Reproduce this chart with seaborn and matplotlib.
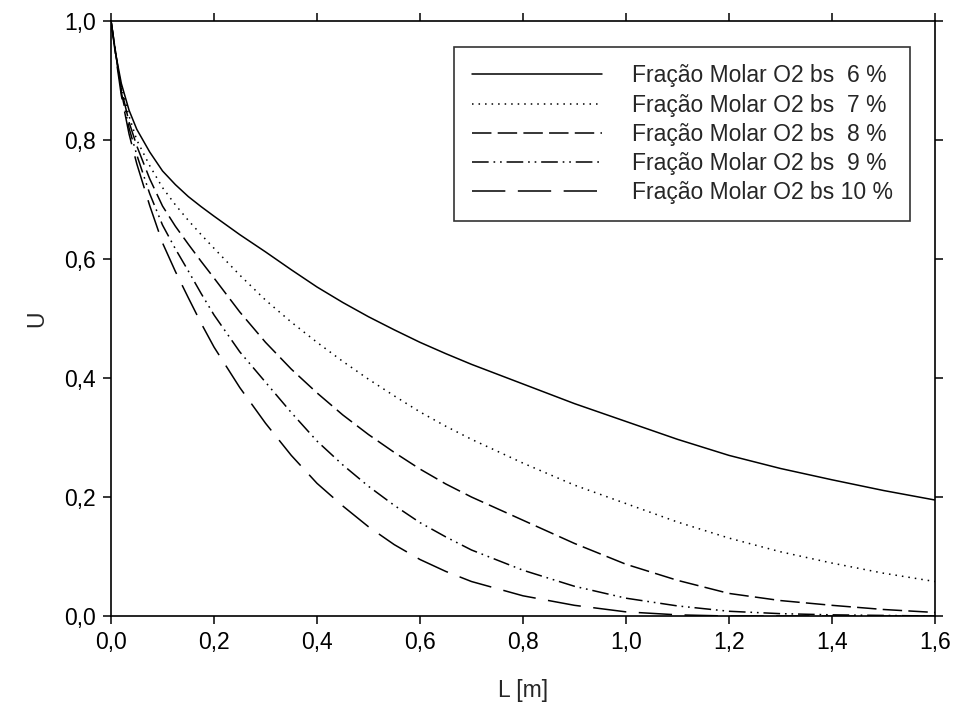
import numpy as np
import pandas as pd
import matplotlib
matplotlib.use("Agg")
import matplotlib.pyplot as plt
import seaborn as sns
from matplotlib.ticker import FuncFormatter

# ---- data ----
L = [0.0, 0.01, 0.02, 0.035, 0.05, 0.075, 0.1, 0.125, 0.15, 0.175, 0.2, 0.25,
     0.3, 0.35, 0.4, 0.45, 0.5, 0.55, 0.6, 0.65, 0.7, 0.8, 0.9, 1.0, 1.1, 1.2,
     1.3, 1.4, 1.5, 1.6]
u_6 = [1.0, 0.94, 0.895, 0.85, 0.818, 0.78, 0.748, 0.725, 0.705, 0.688, 0.672, 0.641,
       0.612, 0.582, 0.553, 0.527, 0.503, 0.481, 0.46, 0.441, 0.423, 0.39, 0.357,
       0.327, 0.297, 0.270, 0.248, 0.229, 0.211, 0.195]
u_7 = [1.0, 0.94, 0.89, 0.84, 0.80, 0.757, 0.72, 0.691, 0.665, 0.641, 0.618, 0.573,
       0.531, 0.494, 0.46, 0.428, 0.398, 0.37, 0.343, 0.319, 0.297, 0.257, 0.22,
       0.189, 0.158, 0.131, 0.108, 0.089, 0.072, 0.058]
u_8 = [1.0, 0.94, 0.885, 0.83, 0.79, 0.735, 0.689, 0.655, 0.625, 0.596, 0.568, 0.511,
       0.46, 0.415, 0.375, 0.338, 0.305, 0.275, 0.247, 0.222, 0.200, 0.161, 0.122,
       0.087, 0.06, 0.038, 0.026, 0.018, 0.011, 0.006]
u_9 = [1.0, 0.94, 0.88, 0.82, 0.775, 0.71, 0.657, 0.617, 0.58, 0.542, 0.506, 0.444,
       0.393, 0.342, 0.294, 0.254, 0.218, 0.186, 0.157, 0.133, 0.111, 0.077, 0.05,
       0.03, 0.017, 0.008, 0.004, 0.002, 0.001, 0.0]
u_10 = [1.0, 0.935, 0.875, 0.81, 0.76, 0.69, 0.627, 0.579, 0.535, 0.492, 0.452, 0.384,
        0.324, 0.27, 0.223, 0.185, 0.150, 0.120, 0.095, 0.075, 0.058, 0.034, 0.018,
        0.007, 0.002, 0.0, 0.0, 0.0, 0.0, 0.0]
labels = ["Fração Molar O2 bs  6 %", "Fração Molar O2 bs  7 %",
          "Fração Molar O2 bs  8 %", "Fração Molar O2 bs  9 %",
          "Fração Molar O2 bs 10 %"]
series = [u_6, u_7, u_8, u_9, u_10]
x_ticks = [0.0, 0.2, 0.4, 0.6, 0.8, 1.0, 1.2, 1.4, 1.6]
y_ticks = [0.0, 0.2, 0.4, 0.6, 0.8, 1.0]

# ---- styles ----
dash_patterns = [None, (1.1, 3.6), (14, 4.5), (12, 3.5, 1.2, 3.5, 1.2, 3.5), (24, 9)]

sns.set_style("ticks")
plt.rcParams['font.family'] = ['Liberation Sans', 'DejaVu Sans']
plt.rcParams['lines.scale_dashes'] = False

fig = plt.figure(figsize=(9.54, 7.13), dpi=100)
ax = fig.add_axes([0.1164, 0.136, 0.8636, 0.8345])

for vals, lab, dp in zip(series, labels, dash_patterns):
    df = pd.DataFrame({"L": L, "U": vals})
    sns.lineplot(data=df, x="L", y="U", ax=ax, color="black", linewidth=1.1,
                 label=lab, sort=False)
    line = ax.lines[-1]
    if dp is not None:
        line.set_dashes(dp)

ax.set_xlim(0, 1.6)
ax.set_ylim(0, 1.0)
ax.set_xticks(x_ticks)
ax.set_yticks(y_ticks)
fmt = FuncFormatter(lambda v, p: f"{v:.1f}".replace(".", ","))
ax.xaxis.set_major_formatter(fmt)
ax.yaxis.set_major_formatter(fmt)
ax.tick_params(axis='both', which='major', direction='out', length=6, width=1.1,
               labelsize=16.5, colors='black', pad=5,
               top=True, right=True, labeltop=False, labelright=False)
for sp in ax.spines.values():
    sp.set_visible(True)
    sp.set_linewidth(1.2)
    sp.set_color('black')

ax.set_xlabel("L [m]", fontsize=16.5, labelpad=18)
ax.set_ylabel("U", fontsize=16.5, labelpad=11)

handles, labs = ax.get_legend_handles_labels()
leg = ax.legend(handles, labs, loc='upper right', bbox_to_anchor=(0.970, 0.956),
                borderaxespad=0, fontsize=16.5, frameon=True, fancybox=False,
                edgecolor='black', handlelength=5.7, handletextpad=1.3,
                labelspacing=0.27, borderpad=0.75)
leg.get_frame().set_linewidth(1.2)
for h, dp in zip(leg.get_lines(), dash_patterns):
    if dp is not None:
        h.set_dashes(dp)

fig.savefig("out.png", dpi=100)
